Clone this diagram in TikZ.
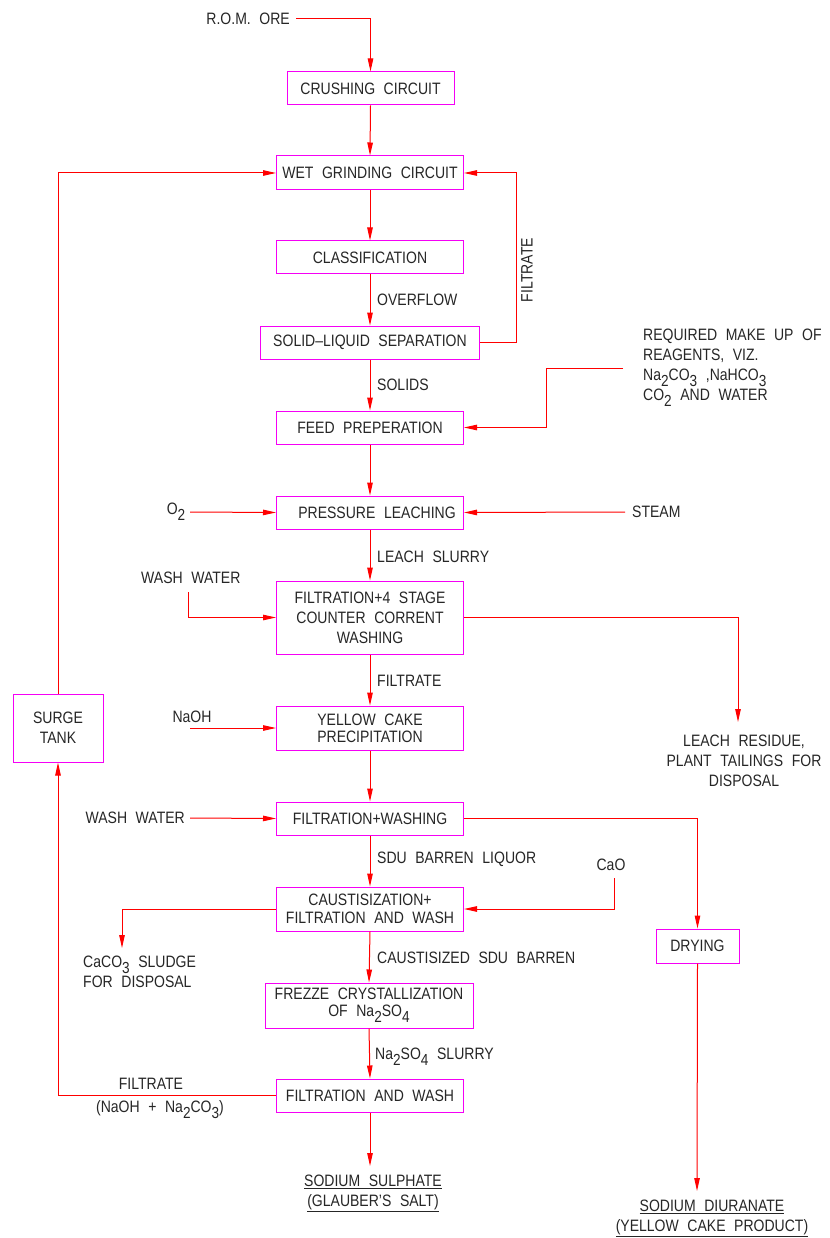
\documentclass[tikz,border=0pt]{standalone}
\usepackage{fontspec}
\setmainfont{Liberation Sans}[FakeStretch=0.85,WordSpace=2.2]
\usetikzlibrary{arrows.meta}
\definecolor{boxc}{RGB}{245,0,245}
\definecolor{linec}{RGB}{255,0,0}
\newcommand{\sbs}[1]{\raisebox{-6pt}{\fontsize{16}{16}\selectfont #1}}
\begin{document}
\begin{tikzpicture}[x=1pt,y=-1pt,
  every node/.style={font=\fontsize{16.5}{20}\selectfont, inner sep=0pt, text=black!85},
  box/.style={draw=boxc, line width=1pt, align=center, minimum width=187, minimum height=34},
  lbl/.style={align=left},
  flow/.style={draw=linec, line width=1pt, -{Triangle[length=13pt,width=5.5pt]}},
  plain/.style={draw=linec, line width=1pt}]
\useasboundingbox (0,0) rectangle (829,1238);
% boxes
\node[box, minimum width=167, minimum height=33] (crush) at (370.5,88.5) {CRUSHING CIRCUIT};
\node[box] (wet) at (370,173) {WET GRINDING CIRCUIT};
\node[box, minimum height=33] (class) at (370,257.5) {CLASSIFICATION};
\node[box, minimum width=219, minimum height=33] (sls) at (370,342.5) {SOLID--LIQUID SEPARATION};
\node[box, minimum height=33] (feed) at (370,427.5) {FEED PREPERATION};
\node[box, minimum height=33] (press) at (370,512.5) {\hspace*{14pt}PRESSURE LEACHING};
\node[box, minimum height=73] (filt4) at (370,617.5) {FILTRATION+4 STAGE\\COUNTER CORRENT\\WASHING};
\node[box, minimum height=44] (ycp) at (370,728) {YELLOW CAKE\\[-3pt]PRECIPITATION};
\node[box, minimum height=33] (fw) at (370,818.5) {FILTRATION+WASHING};
\node[box, minimum height=44] (caus) at (370,909) {CAUSTISIZATION+\\[-2pt]FILTRATION AND WASH};
\node[box, minimum width=208, minimum height=45] (frz) at (369,1005.5) {FREZZE CRYSTALLIZATION\\[-3pt]OF Na\sbs{2}SO\sbs{4}};
\node[box, minimum height=33] (faw) at (370,1095.5) {FILTRATION AND WASH};
\node[box, minimum width=90, minimum height=68] (surge) at (58,728) {SURGE\\TANK};
\node[box, minimum width=83, minimum height=34] (dry) at (697.5,946) {DRYING};
% texts
\node[anchor=east] (rom) at (290,19) {R.O.M. ORE};
\node[rotate=90] (filtv) at (527,270) {FILTRATE};
\node[lbl, anchor=west] (ovf) at (377,300) {OVERFLOW};
\node[lbl, anchor=west] (sol) at (377,385) {SOLIDS};
\node[lbl, anchor=north west] (reag) at (643,329) {REQUIRED MAKE UP OF\\REAGENTS, VIZ.\\Na\sbs{2}CO\sbs{3} ,NaHCO\sbs{3}\\CO\sbs{2} AND WATER};
\node (o2) at (176,512) {O\sbs{2}};
\node[anchor=west] (steam) at (632,512) {STEAM};
\node[lbl, anchor=west] (lsl) at (377,557) {LEACH SLURRY};
\node[anchor=west] (ww1) at (141,578) {WASH WATER};
\node[align=center, anchor=north] (resid) at (744,735) {LEACH RESIDUE,\\PLANT TAILINGS FOR\\DISPOSAL};
\node[lbl, anchor=west] (filt2) at (377,681) {FILTRATE};
\node (naoh) at (192,717) {NaOH};
\node[anchor=east] (ww2) at (185,818) {WASH WATER};
\node[lbl, anchor=west] (sdu) at (377,859) {SDU BARREN LIQUOR};
\node (cao) at (611,865) {CaO};
\node[lbl, anchor=north west] (caco) at (83,956) {CaCO\sbs{3} SLUDGE\\FOR DISPOSAL};
\node[lbl, anchor=west] (csdu) at (377,958) {CAUSTISIZED SDU BARREN};
\node[lbl, anchor=west] (slur) at (375,1057) {Na\sbs{2}SO\sbs{4} SLURRY};
\node (filt3) at (151,1084) {FILTRATE};
\node (mix) at (160,1110) {(NaOH + Na\sbs{2}CO\sbs{3})};
\node[align=center, anchor=north] (sulph) at (373,1175) {\underline{SODIUM SULPHATE}\\\underline{(GLAUBER'S SALT)}};
\node[align=center, anchor=north] (diur) at (712,1200) {\underline{SODIUM DIURANATE}\\\underline{(YELLOW CAKE PRODUCT)}};
% free-end coordinates
\coordinate (romE) at (296,19);
\coordinate (reagE) at (623,368);
\coordinate (o2E) at (190,512);
\coordinate (steamE) at (625,512);
\coordinate (ww1E) at (188,592);
\coordinate (residE) at (738,722);
\coordinate (naohE) at (190,728);
\coordinate (ww2E) at (190,818);
\coordinate (caoE) at (614,878);
\coordinate (cacoE) at (122,948);
\coordinate (sulphE) at (370,1166);
\coordinate (diurE) at (697,1191);
% connectors
\draw[flow] (romE) -| (crush.north);
\draw[flow] (crush.south) -- (wet.north);
\draw[flow] (wet.south) -- (class.north);
\draw[flow] (class.south) -- (sls.north);
\draw[flow] (sls.east) -- ++(36,0) |- (wet.east);
\draw[flow] (sls.south) -- (feed.north);
\draw[flow] (reagE) -- (546,368) |- (feed.east);
\draw[flow] (feed.south) -- (press.north);
\draw[flow] (o2E) -- (press.west);
\draw[flow] (steamE) -- (press.east);
\draw[flow] (press.south) -- (filt4.north);
\draw[flow] (ww1E) |- (filt4.west);
\draw[flow] (filt4.east) -| (residE);
\draw[flow] (filt4.south) -- (ycp.north);
\draw[flow] (naohE) -- (ycp.west);
\draw[flow] (ycp.south) -- (fw.north);
\draw[flow] (ww2E) -- (fw.west);
\draw[flow] (fw.east) -| (dry.north);
\draw[flow] (dry.south) -- (diurE);
\draw[flow] (fw.south) -- (caus.north);
\draw[flow] (caoE) |- (caus.east);
\draw[flow] (caus.west) -| (cacoE);
\draw[flow] (caus.south) -- (frz.north);
\draw[flow] (frz.south) -- (faw.north);
\draw[flow] (faw.west) -| (surge.south);
\draw[flow] (surge.north) |- (wet.west);
\draw[flow] (faw.south) -- (sulphE);
\end{tikzpicture}
\end{document}
